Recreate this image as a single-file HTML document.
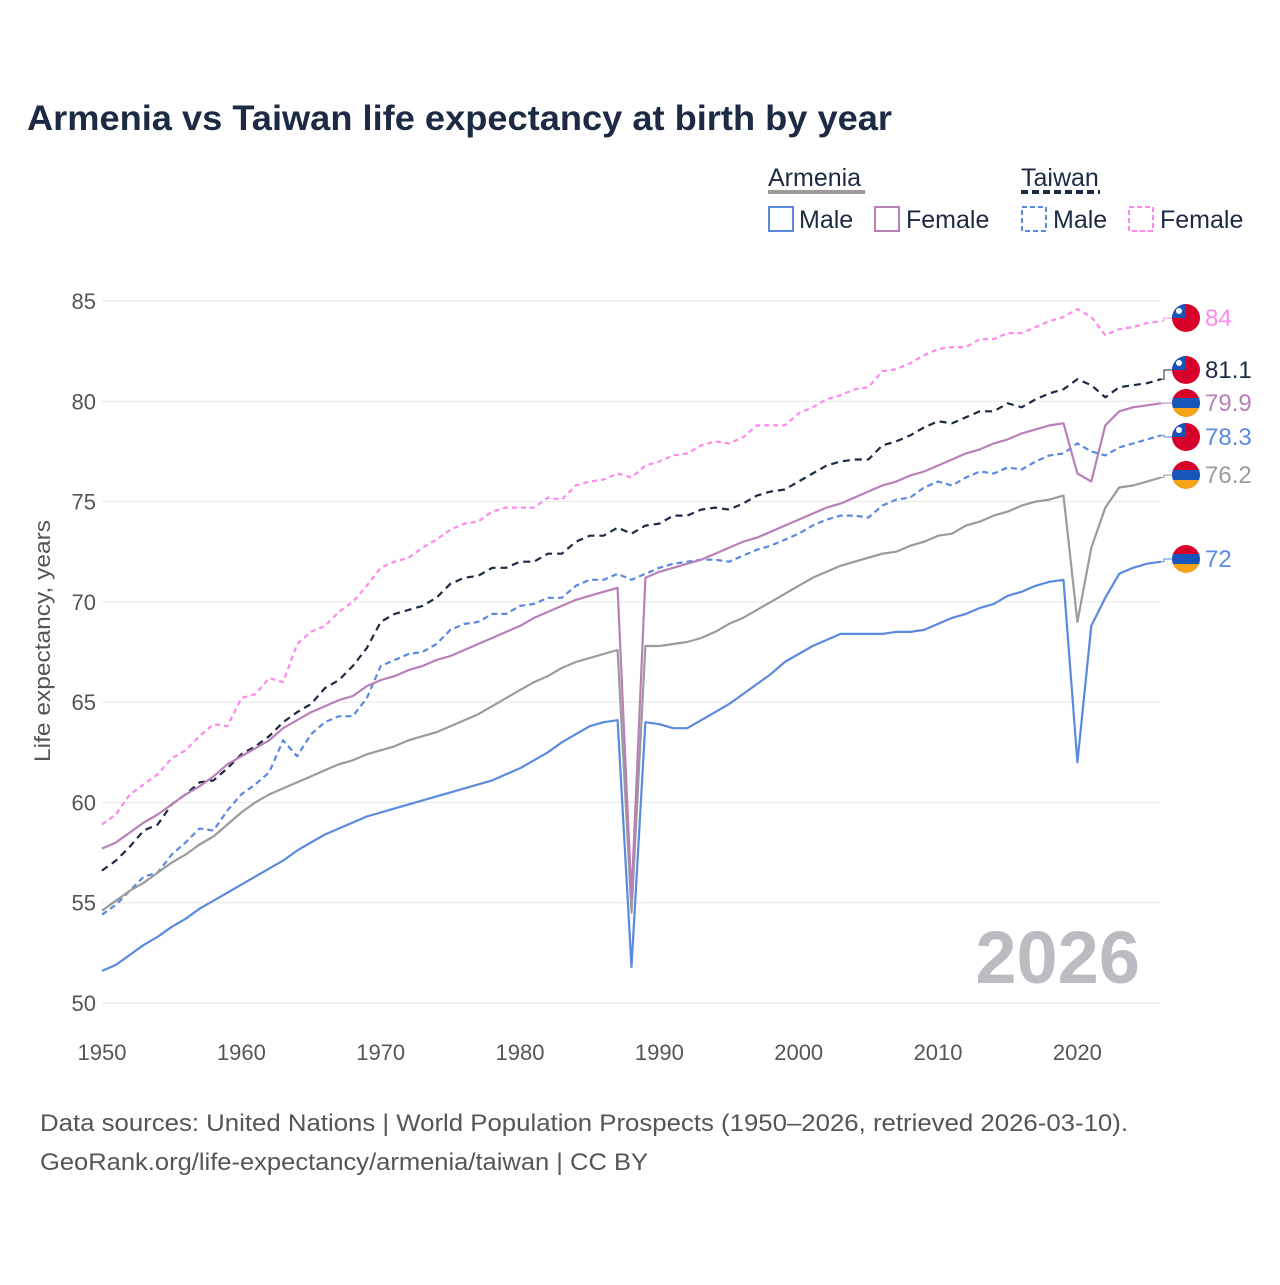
<!DOCTYPE html>
<html><head><meta charset="utf-8"><style>
body{margin:0;background:#fff;}
svg text{font-family:"Liberation Sans",sans-serif;}
</style></head><body>
<svg id="chart" width="1280" height="1280" viewBox="0 0 1280 1280" xmlns="http://www.w3.org/2000/svg">
<rect width="1280" height="1280" fill="#fff"/>
<text x="27" y="130" font-size="35" font-weight="bold" fill="#1c2a44" textLength="865" lengthAdjust="spacingAndGlyphs">Armenia vs Taiwan life expectancy at birth by year</text>
<g font-size="25" fill="#1c2a44">
  <text x="768" y="186">Armenia</text>
  <line x1="768" y1="192" x2="865" y2="192" stroke="#9b9b9b" stroke-width="4"/>
  <text x="1021" y="186">Taiwan</text>
  <line x1="1021" y1="192" x2="1100" y2="192" stroke="#1c2a44" stroke-width="4" stroke-dasharray="7,4"/>
  <g><rect x="769" y="207" width="24" height="24" fill="none" stroke="#5a8ade" stroke-width="2"/><text x="799" y="228">Male</text></g>
  <g><rect x="875" y="207" width="24" height="24" fill="none" stroke="#b97fb9" stroke-width="2"/><text x="906" y="228">Female</text></g>
  <g><rect x="1022" y="207" width="24" height="24" fill="none" stroke="#5a8ade" stroke-width="2" stroke-dasharray="5,3"/><text x="1053" y="228">Male</text></g>
  <g><rect x="1129" y="207" width="24" height="24" fill="none" stroke="#ff88f0" stroke-width="2" stroke-dasharray="5,3"/><text x="1160" y="228">Female</text></g>
</g>
<g id="grid"></g>
<g id="yticks" font-size="22" fill="#555" text-anchor="end"></g>
<g id="xticks" font-size="22" fill="#555" text-anchor="middle"></g>
<text transform="translate(50,641) rotate(-90)" font-size="22" fill="#555" text-anchor="middle" textLength="242" lengthAdjust="spacingAndGlyphs">Life expectancy, years</text>
<text x="1140" y="983" font-size="74" font-weight="bold" fill="#babcc1" text-anchor="end">2026</text>
<g id="series"></g>
<g id="ends"></g>
<text x="40" y="1131" font-size="24" fill="#555" textLength="1088" lengthAdjust="spacingAndGlyphs">Data sources: United Nations | World Population Prospects (1950–2026, retrieved 2026-03-10).</text>
<text x="40" y="1170" font-size="24" fill="#555" textLength="608" lengthAdjust="spacingAndGlyphs">GeoRank.org/life-expectancy/armenia/taiwan | CC BY</text>
</svg>
<script>
const startYear = 1950;
const yTicks = [50,55,60,65,70,75,80,85];
const xTicks = [1950,1960,1970,1980,1990,2000,2010,2020];
const armeniaMale = [51.6,51.9,52.4,52.9,53.3,53.8,54.2,54.7,55.1,55.5,55.9,56.3,56.7,57.1,57.6,58.0,58.4,58.7,59.0,59.3,59.5,59.7,59.9,60.1,60.3,60.5,60.7,60.9,61.1,61.4,61.7,62.1,62.5,63.0,63.4,63.8,64.0,64.1,51.8,64.0,63.9,63.7,63.7,64.1,64.5,64.9,65.4,65.9,66.4,67.0,67.4,67.8,68.1,68.4,68.4,68.4,68.4,68.5,68.5,68.6,68.9,69.2,69.4,69.7,69.9,70.3,70.5,70.8,71.0,71.1,62.0,68.8,70.2,71.4,71.7,71.9,72.0];
const armeniaFemale = [57.7,58.0,58.5,59.0,59.4,59.9,60.4,60.8,61.3,61.9,62.3,62.7,63.1,63.7,64.1,64.5,64.8,65.1,65.3,65.8,66.1,66.3,66.6,66.8,67.1,67.3,67.6,67.9,68.2,68.5,68.8,69.2,69.5,69.8,70.1,70.3,70.5,70.7,55.3,71.2,71.5,71.7,71.9,72.1,72.4,72.7,73.0,73.2,73.5,73.8,74.1,74.4,74.7,74.9,75.2,75.5,75.8,76.0,76.3,76.5,76.8,77.1,77.4,77.6,77.9,78.1,78.4,78.6,78.8,78.9,76.4,76.0,78.8,79.5,79.7,79.8,79.9];
const armeniaTotal = [54.6,55.1,55.6,56.0,56.5,57.0,57.4,57.9,58.3,58.9,59.5,60.0,60.4,60.7,61.0,61.3,61.6,61.9,62.1,62.4,62.6,62.8,63.1,63.3,63.5,63.8,64.1,64.4,64.8,65.2,65.6,66.0,66.3,66.7,67.0,67.2,67.4,67.6,54.5,67.8,67.8,67.9,68.0,68.2,68.5,68.9,69.2,69.6,70.0,70.4,70.8,71.2,71.5,71.8,72.0,72.2,72.4,72.5,72.8,73.0,73.3,73.4,73.8,74.0,74.3,74.5,74.8,75.0,75.1,75.3,69.0,72.7,74.7,75.7,75.8,76.0,76.2];
const taiwanMale = [54.4,54.9,55.6,56.3,56.5,57.4,58.0,58.7,58.6,59.6,60.4,60.9,61.5,63.1,62.3,63.4,64.0,64.3,64.3,65.2,66.8,67.1,67.4,67.5,67.9,68.6,68.9,69.0,69.4,69.4,69.8,69.9,70.2,70.2,70.8,71.1,71.1,71.4,71.1,71.4,71.7,71.9,72.0,72.1,72.1,72.0,72.3,72.6,72.8,73.1,73.4,73.8,74.1,74.3,74.3,74.2,74.8,75.1,75.2,75.7,76.0,75.8,76.2,76.5,76.4,76.7,76.6,77.0,77.3,77.4,77.9,77.5,77.3,77.7,77.9,78.1,78.3];
const taiwanFemale = [58.9,59.4,60.4,60.9,61.4,62.2,62.6,63.3,63.9,63.8,65.2,65.4,66.2,66.0,67.9,68.5,68.8,69.5,70.0,70.8,71.7,72.0,72.2,72.7,73.1,73.6,73.9,74.0,74.5,74.7,74.7,74.7,75.2,75.1,75.8,76.0,76.1,76.4,76.2,76.8,77.0,77.3,77.4,77.8,78.0,77.9,78.2,78.8,78.8,78.8,79.4,79.7,80.1,80.3,80.6,80.7,81.5,81.6,81.9,82.3,82.6,82.7,82.7,83.1,83.1,83.4,83.4,83.7,84.0,84.2,84.6,84.2,83.3,83.6,83.7,83.9,84.0];
const taiwanTotal = [56.6,57.1,57.8,58.6,58.9,59.9,60.4,61.0,61.1,61.7,62.4,62.8,63.3,64.0,64.5,64.9,65.7,66.1,66.8,67.7,69.0,69.4,69.6,69.8,70.2,70.9,71.2,71.3,71.7,71.7,72.0,72.0,72.4,72.4,73.0,73.3,73.3,73.7,73.4,73.8,73.9,74.3,74.3,74.6,74.7,74.6,74.9,75.3,75.5,75.6,76.0,76.4,76.8,77.0,77.1,77.1,77.8,78.0,78.3,78.7,79.0,78.9,79.2,79.5,79.5,79.9,79.7,80.1,80.4,80.6,81.1,80.8,80.2,80.7,80.8,80.9,81.1];
const endLabels = ["72","79.9","76.2","78.3","84","81.1"];

const NS = "http://www.w3.org/2000/svg";
const X0 = 102, X1 = 1161, Y0 = 1003, Y1 = 301;
function xs(yr){ return X0 + (yr - 1950) / 76 * (X1 - X0); }
function ys(v){ return Y0 - (v - 50) / 35 * (Y0 - Y1); }
function mk(tag, attrs, parent){ const e = document.createElementNS(NS, tag); for (const k in attrs) e.setAttribute(k, attrs[k]); parent.appendChild(e); return e; }

const grid = document.getElementById('grid');
const yg = document.getElementById('yticks');
yTicks.forEach(v => {
  const l = mk('line', {x1: X0, x2: X1, y1: ys(v), y2: ys(v), stroke: '#e6e6e6', 'stroke-width': 1}, grid);
  
  
  const t = mk('text', {x: 96, y: ys(v) + 8}, yg);
  t.textContent = v;
  
  
});
const xg = document.getElementById('xticks');
xTicks.forEach(yr => {
  const t = mk('text', {x: xs(yr), y: 1060}, xg);
  t.textContent = yr;
  
  
});

const seriesG = document.getElementById('series');
const endsG = document.getElementById('ends');
const defs = [
  {d: taiwanFemale, c: '#ff88f0', dash: '5,4', name: 'taiwan-female', flag: 'tw', lc: '#ff88f0'},
  {d: taiwanTotal, c: '#1c2a44', dash: '7,5', name: 'taiwan-total', flag: 'tw', lc: '#1c2a44'},
  {d: taiwanMale, c: '#5a8ade', dash: '6,4', name: 'taiwan-male', flag: 'tw', lc: '#5a8ade'},
  {d: armeniaTotal, c: '#9b9b9b', dash: null, name: 'armenia-total', flag: 'am', lc: '#9b9b9b'},
  {d: armeniaFemale, c: '#b97fb9', dash: null, name: 'armenia-female', flag: 'am', lc: '#b97fb9'},
  {d: armeniaMale, c: '#5a8ade', dash: null, name: 'armenia-male', flag: 'am', lc: '#5a8ade'}
];
const labelMap = {'armenia-male': endLabels[0], 'armenia-female': endLabels[1], 'armenia-total': endLabels[2], 'taiwan-male': endLabels[3], 'taiwan-female': endLabels[4], 'taiwan-total': endLabels[5]};
defs.forEach(s => {
  const pts = s.d.map((v, i) => xs(startYear + i).toFixed(1) + ',' + ys(v).toFixed(1)).join(' ');
  const a = {points: pts, fill: 'none', stroke: s.c, 'stroke-width': 2.2, 'stroke-linejoin': 'round'};
  if (s.dash) a['stroke-dasharray'] = s.dash;
  const pl = mk('polyline', a, seriesG);
  
  
});
const order = ['taiwan-female','taiwan-total','armenia-female','taiwan-male','armenia-total','armenia-male'];
const labelY = {'taiwan-female':318,'taiwan-total':370,'armenia-female':403,'taiwan-male':437,'armenia-total':475,'armenia-male':559};
order.forEach(n => {
  const s = defs.find(d => d.name === n);
  const ly = labelY[n];
  const last = s.d[s.d.length - 1];
  const cx = 1186;
  mk('polyline', {points: X1 + ',' + ys(last) + ' 1164,' + ys(last) + ' 1164,' + ly + ' ' + (cx - 12) + ',' + ly, fill: 'none', stroke: s.c, 'stroke-width': 1}, endsG);
  const g = mk('g', {}, endsG);
  
  
  const id = 'clip-' + n;
  const cp = mk('clipPath', {id: id}, g);
  mk('circle', {cx: cx, cy: ly, r: 14}, cp);
  const inner = mk('g', {'clip-path': 'url(#' + id + ')'}, g);
  if (s.flag === 'tw') {
    mk('rect', {x: cx - 14, y: ly - 14, width: 28, height: 28, fill: '#d7002a'}, inner);
    mk('rect', {x: cx - 14, y: ly - 14, width: 14, height: 14, fill: '#1755b8'}, inner);
    mk('circle', {cx: cx - 7, cy: ly - 7, r: 3, fill: '#fff'}, inner);
  } else {
    mk('rect', {x: cx - 14, y: ly - 14, width: 28, height: 10, fill: '#d7002a'}, inner);
    mk('rect', {x: cx - 14, y: ly - 5, width: 28, height: 10, fill: '#1755b8'}, inner);
    mk('rect', {x: cx - 14, y: ly + 5, width: 28, height: 10, fill: '#f6a21a'}, inner);
  }
  const t = mk('text', {x: 1205, y: ly + 8, 'font-size': 24, fill: s.lc}, endsG);
  t.textContent = labelMap[n];
  
  
});
</script>
</body></html>
